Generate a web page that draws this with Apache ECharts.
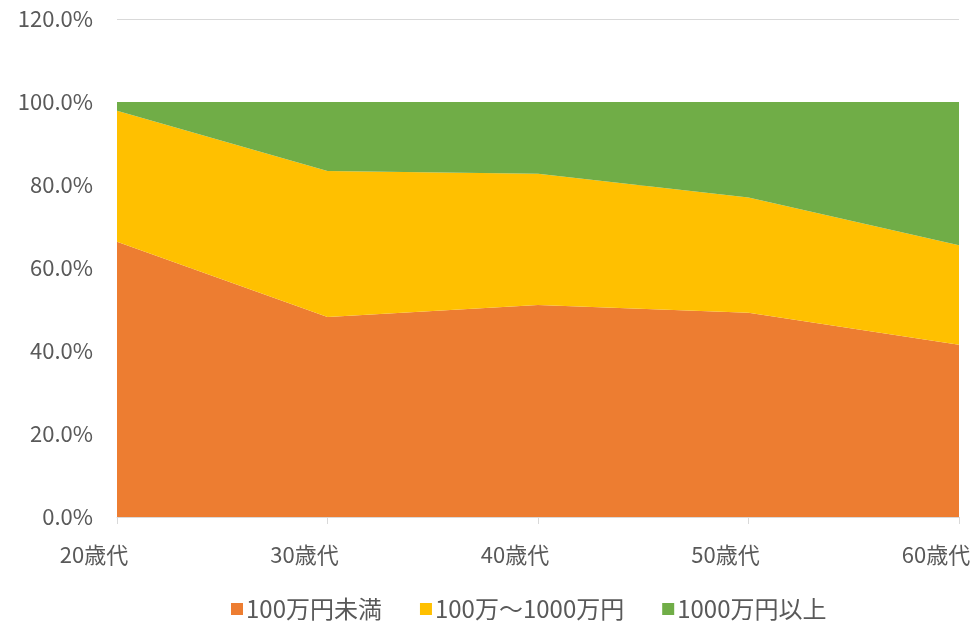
<!DOCTYPE html>
<html style="width: 100%;height:100%;">
<head>
    <meta charset="utf-8">
    <title>年代別</title>
    <script src="https://cdn.jsdelivr.net/npm/echarts@6/dist/echarts.min.js"></script>
    <style>
        body { margin: 0; background: #ffffff; }
        #chart { width: 976px; height: 626px; }
    </style>
</head>
<body>
<div id="chart"></div>
<script>
    const ages = ['20歳代', '30歳代', '40歳代', '50歳代', '60歳代'];
    const under100 = [66.3, 48.2, 51.1, 49.2, 41.5];
    const from100to1000 = [31.6, 35.2, 31.6, 27.8, 24.0];
    const over1000 = [2.1, 16.6, 17.3, 23.0, 34.5];
    const seriesNames = ['100万円未満', '100万～1000万円', '1000万円以上'];
    const colors = ['#ED7D31', '#FFC000', '#70AD47'];

    const font = '"Noto Sans CJK JP", sans-serif';
    const textColor = '#595959';

    const chart = echarts.init(document.getElementById('chart'));

    function areaSeries(name, data, color) {
        return {
            name: name,
            type: 'line',
            stack: 'total',
            data: data,
            symbol: 'none',
            lineStyle: { width: 0 },
            areaStyle: { color: color, opacity: 1 },
            itemStyle: { color: color }
        };
    }

    chart.setOption({
        animation: false,
        grid: { left: 117, right: 17, top: 19, bottom: 109, containLabel: false, outerBoundsMode: 'none' },
        xAxis: {
            type: 'category',
            data: ages,
            boundaryGap: false,
            axisLine: { lineStyle: { color: '#D9D9D9' } },
            axisTick: { show: true, length: 7, lineStyle: { color: '#D9D9D9' } },
            axisLabel: {
                color: textColor, fontSize: 22, fontFamily: font, margin: 27,
                padding: [0, 46, 0, 0]
            }
        },
        yAxis: {
            type: 'value',
            min: 0,
            max: 120,
            interval: 20,
            axisLine: { show: false },
            axisTick: { show: false },
            splitLine: { lineStyle: { color: '#D9D9D9' } },
            axisLabel: {
                color: textColor, fontSize: 22, fontFamily: font, margin: 24,
                formatter: v => v.toFixed(1) + '%'
            }
        },
        legend: {
            bottom: 0,
            left: 226,
            itemWidth: 12,
            itemHeight: 12,
            itemGap: 38,
            icon: 'rect',
            textStyle: { color: textColor, fontSize: 24, fontFamily: font, padding: [0, 0, 0, -2] },
            data: seriesNames
        },
        series: [
            areaSeries(seriesNames[0], under100, colors[0]),
            areaSeries(seriesNames[1], from100to1000, colors[1]),
            areaSeries(seriesNames[2], over1000, colors[2])
        ]
    });
</script>
</body>
</html>
